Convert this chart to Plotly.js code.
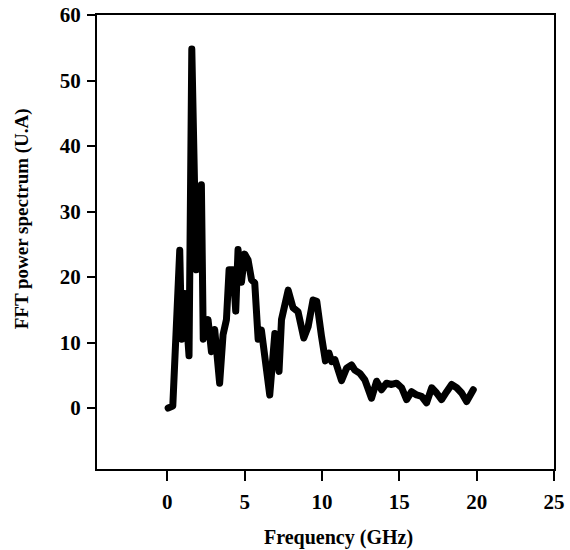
<!DOCTYPE html>
<html>
<head>
<meta charset="utf-8">
<script src="https://cdn.plot.ly/plotly-3.0.1.min.js"></script>
<style>
html,body{margin:0;padding:0;background:#fff;}
#chart{width:570px;height:550px;}
.js-line{stroke-linejoin:round !important;stroke-linecap:round !important;}
</style>
</head>
<body>
<div id="chart"></div>
<script>
// Frequency (GHz)
var freq = [0.05, 0.35, 0.8, 0.92, 1.12, 1.4, 1.58, 1.87, 2.2, 2.32, 2.63, 2.85, 3.06, 3.38, 3.6, 3.82, 3.99, 4.25, 4.42, 4.57, 4.79, 5.0, 5.22, 5.44, 5.65, 5.87, 6.08, 6.3, 6.62, 6.95, 7.22, 7.38, 7.81, 8.13, 8.45, 8.82, 9.1, 9.42, 9.66, 9.97, 10.22, 10.45, 10.62, 10.83, 11.26, 11.59, 11.91, 12.12, 12.45, 12.77, 13.2, 13.53, 13.85, 14.17, 14.5, 14.82, 15.15, 15.47, 15.79, 16.12, 16.44, 16.76, 17.09, 17.41, 17.73, 18.06, 18.38, 18.71, 19.03, 19.35, 19.78];
// FFT power spectrum (U.A)
var power = [0, 0.3, 24.1, 10.5, 17.5, 8.0, 54.8, 21.1, 34.1, 10.5, 13.5, 8.6, 12.0, 3.8, 11.2, 13.5, 21.1, 21.1, 14.8, 24.2, 19.2, 23.5, 22.6, 19.6, 19.1, 10.5, 11.9, 7.9, 2.0, 11.4, 5.6, 13.5, 18.0, 15.3, 14.7, 10.7, 12.4, 16.5, 16.3, 10.9, 7.2, 8.4, 7.1, 7.4, 4.2, 6.1, 6.6, 5.8, 5.3, 4.3, 1.5, 4.1, 2.8, 3.8, 3.6, 3.8, 3.1, 1.3, 2.5, 2.0, 1.8, 0.8, 3.1, 2.3, 1.3, 2.5, 3.6, 3.1, 2.3, 1.0, 2.8];
var xTicks = [0, 5, 10, 15, 20, 25];
var yTicks = [0, 10, 20, 30, 40, 50, 60];
var xLabel = 'Frequency (GHz)';
var yLabel = 'FFT power spectrum (U.A)';

var fontFam = '"Liberation Serif", "Times New Roman", serif';

var trace = {
  x: freq, y: power, type: 'scatter', mode: 'lines',
  line: {color: '#000', width: 7},
  hoverinfo: 'skip'
};

var layout = {
  width: 570, height: 550,
  margin: {l: 97, r: 16, t: 15, b: 81},
  paper_bgcolor: '#fff', plot_bgcolor: '#fff',
  showlegend: false,
  font: {family: fontFam, color: '#000'},
  xaxis: {
    range: [-4.55, 25], tickvals: xTicks, ticktext: xTicks.map(String),
    showgrid: false, zeroline: false,
    showline: true, linecolor: '#000', linewidth: 2, mirror: true,
    ticks: 'outside', ticklen: 10, tickwidth: 2, tickcolor: '#000',
    tickfont: {family: fontFam, size: 21, color: '#000', weight: 'bold'},
    ticklabelstandoff: 3
  },
  yaxis: {
    range: [-9.3, 60], tickvals: yTicks, ticktext: yTicks.map(String),
    showgrid: false, zeroline: false,
    showline: true, linecolor: '#000', linewidth: 2, mirror: true,
    ticks: 'outside', ticklen: 8, tickwidth: 2, tickcolor: '#000',
    tickfont: {family: fontFam, size: 21, color: '#000', weight: 'bold'},
    ticklabelstandoff: 2
  },
  annotations: [
    {text: '<b>' + xLabel + '</b>', xref: 'paper', yref: 'paper', x: 0.528, y: 0,
     xanchor: 'center', yanchor: 'middle', yshift: -68, showarrow: false,
     font: {family: fontFam, size: 20, color: '#000'}},
    {text: '<b>' + yLabel + '</b>', xref: 'paper', yref: 'paper', x: 0, y: 0.55,
     xanchor: 'center', yanchor: 'middle', xshift: -75, textangle: -90, showarrow: false,
     font: {family: fontFam, size: 19, color: '#000'}}
  ]
};

Plotly.newPlot('chart', [trace], layout, {staticPlot: true, displayModeBar: false});
</script>
</body>
</html>
